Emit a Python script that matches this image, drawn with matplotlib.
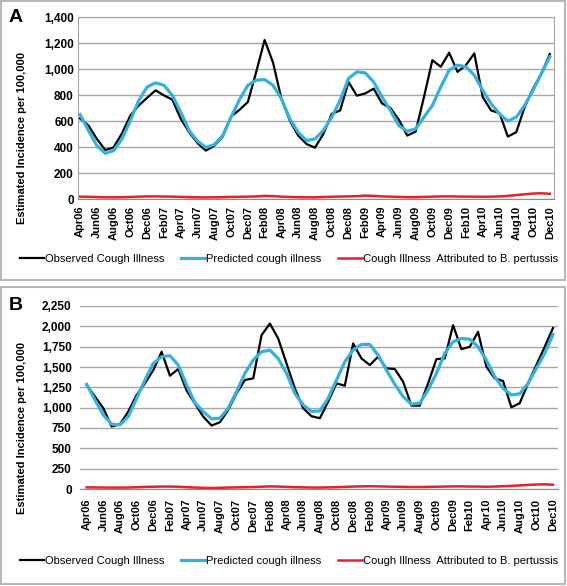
import matplotlib
matplotlib.use("Agg")
import matplotlib.pyplot as plt
from matplotlib.patches import Rectangle
import numpy as np

plt.rcParams['font.family'] = ['Liberation Sans', 'DejaVu Sans']

months = ["Apr06","May06","Jun06","Jul06","Aug06","Sep06","Oct06","Nov06","Dec06",
          "Jan07","Feb07","Mar07","Apr07","May07","Jun07","Jul07","Aug07","Sep07","Oct07","Nov07","Dec07",
          "Jan08","Feb08","Mar08","Apr08","May08","Jun08","Jul08","Aug08","Sep08","Oct08","Nov08","Dec08",
          "Jan09","Feb09","Mar09","Apr09","May09","Jun09","Jul09","Aug09","Sep09","Oct09","Nov09","Dec09",
          "Jan10","Feb10","Mar10","Apr10","May10","Jun10","Jul10","Aug10","Sep10","Oct10","Nov10","Dec10"]

# Panel A
obs_a = [620, 565, 462, 377, 397, 506, 643, 720, 779, 836, 797, 764, 617, 514, 430, 372, 410, 480,
         635, 686, 746, 978, 1223, 1050, 772, 604, 488, 423, 395, 500, 655, 681, 900, 795, 812, 849,
         735, 700, 610, 488, 518, 785, 1068, 1017, 1125, 978, 1030, 1120, 785, 681, 661, 480, 514,
         707, 849, 965, 1115]
pred_a = [650, 527, 410, 351, 372, 462, 604, 759, 862, 893, 875, 797, 668, 527, 445, 397, 418, 488,
          630, 764, 875, 914, 919, 875, 772, 617, 514, 449, 462, 527, 630, 759, 927, 978, 970, 900,
          785, 681, 565, 521, 539, 630, 720, 862, 991, 1030, 1017, 952, 836, 733, 655, 599, 630,
          720, 836, 965, 1094]
pert_a = [18, 17, 15, 13, 13, 14, 16, 18, 20, 20, 19, 18, 16, 14, 13, 12, 13, 14, 16, 17, 18, 20,
          24, 22, 18, 16, 14, 13, 13, 15, 17, 19, 20, 22, 26, 24, 20, 18, 16, 14, 14, 16, 18, 20,
          20, 19, 18, 18, 17, 18, 20, 24, 30, 36, 42, 44, 40]

# Panel B
obs_b = [1279, 1136, 993, 768, 797, 952, 1156, 1299, 1462, 1687, 1393, 1475, 1210, 1050, 890, 780,
         821, 972, 1176, 1340, 1360, 1891, 2034, 1850, 1544, 1238, 993, 895, 870, 1074, 1299, 1270,
         1789, 1605, 1524, 1626, 1483, 1475, 1319, 1025, 1025, 1299, 1597, 1605, 2014, 1720, 1748,
         1932, 1503, 1360, 1328, 1005, 1054, 1299, 1524, 1748, 1980]
pred_b = [1287, 1095, 911, 797, 788, 891, 1115, 1340, 1544, 1626, 1638, 1524, 1279, 1060, 952, 862,
          870, 993, 1197, 1422, 1585, 1687, 1708, 1605, 1422, 1176, 1034, 952, 960, 1115, 1340, 1565,
          1708, 1777, 1777, 1646, 1462, 1287, 1136, 1042, 1054, 1217, 1422, 1667, 1810, 1850, 1842,
          1748, 1585, 1381, 1238, 1156, 1170, 1299, 1483, 1667, 1900]
pert_b = [20, 19, 18, 17, 17, 18, 22, 26, 28, 30, 30, 28, 22, 18, 14, 12, 15, 18, 20, 22, 24, 28,
          32, 30, 26, 22, 20, 18, 18, 20, 22, 26, 30, 32, 34, 32, 30, 28, 26, 24, 24, 26, 28, 30,
          32, 32, 30, 30, 28, 30, 34, 38, 44, 50, 55, 58, 52]

labels = ["Observed Cough Illness", "Predicted cough illness",
          "Cough Illness  Attributed to B. pertussis"]
ticks_a = [0, 200, 400, 600, 800, 1000, 1200, 1400]
ticks_b = [0, 250, 500, 750, 1000, 1250, 1500, 1750, 2000, 2250]

W, H = 567, 586
fig = plt.figure(figsize=(W/100, H/100), dpi=100)

def px(x0, y0, x1, y1):
    return [x0/W, 1 - y1/H, (x1-x0)/W, (y1-y0)/H]

# panel frames
for (x0, y0, x1, y1) in [(1, 1, 565, 280), (1, 287, 565, 584)]:
    fig.patches.append(Rectangle((x0/W, 1-y1/H), (x1-x0)/W, (y1-y0)/H,
                                 transform=fig.transFigure, fill=False,
                                 edgecolor='#b8b8b8', linewidth=1.5))

C_OBS = '#000000'
C_PRED = '#33b1e0'
C_PERT = '#e8202a'
x = np.arange(len(months))

def panel(rect, obs, pred, pert, yt, xlim, frame, letter, letter_xy, ylab_xy, leg_y, tickpad_y, tickpad_x):
    ax = fig.add_axes(rect)
    ax.plot(x, obs, color=C_OBS, lw=1.6, zorder=3, label=labels[0])
    ax.plot(x, pred, color=C_PRED, lw=2.3, zorder=4, label=labels[1])
    ax.plot(x, pert, color=C_PERT, lw=1.8, zorder=5, label=labels[2])
    ax.set_ylim(yt[0], yt[-1])
    ax.set_xlim(*xlim)
    ax.set_yticks(yt)
    ax.set_yticklabels([f"{v:,}" for v in yt], fontsize=8.5, fontweight='bold')
    ax.set_xticks(x[::2])
    ax.set_xticklabels(months[::2], rotation=90, fontsize=8, fontweight='bold')
    ax.tick_params(axis='both', length=0)
    ax.tick_params(axis='y', pad=tickpad_y)
    ax.tick_params(axis='x', pad=tickpad_x)
    ax.grid(axis='y', color='#a6a6a6', lw=1.0, zorder=0)
    for s in ax.spines.values():
        s.set_visible(frame)
        s.set_color('#a6a6a6')
    ax.spines['bottom'].set_visible(True)
    ax.spines['bottom'].set_color('#8c8c8c')
    fig.text(letter_xy[0]/W, 1-letter_xy[1]/H, letter, fontsize=14, fontweight='bold',
             ha='left', va='center')
    fig.text(ylab_xy[0]/W, 1-ylab_xy[1]/H, "Estimated Incidence per 100,000", rotation=90,
             fontsize=8, fontweight='bold', ha='center', va='center')
    fig.legend(*ax.get_legend_handles_labels(), loc='center left',
               bbox_to_anchor=(20/W, 1-leg_y/H), ncol=3, frameon=False,
               fontsize=8, handlelength=2.15, handletextpad=0.1, columnspacing=1.5,
               borderaxespad=0, borderpad=0)
    return ax

panel(px(78, 17, 554, 199), obs_a, pred_a, pert_a, ticks_a, (-0.25, 56.5), True,
      "A", (9, 18), (22, 138), 259, 3, 5)
panel(px(80, 306, 558, 489), obs_b, pred_b, pert_b, ticks_b, (-0.8, 56.6), False,
      "B", (9, 305), (22, 428), 561, 6, 7)

fig.savefig("out.png", dpi=100)
